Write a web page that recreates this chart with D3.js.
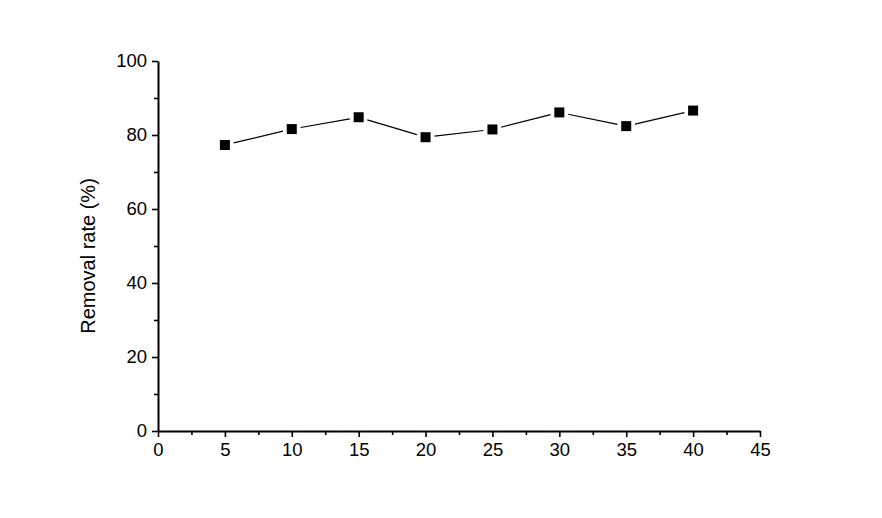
<!DOCTYPE html>
<html><head><meta charset="utf-8">
<script src="https://cdn.jsdelivr.net/npm/d3@7"></script>
<style>body{margin:0;background:#fff}svg{display:block}text{font-family:"Liberation Sans",Arial,sans-serif}</style>
</head><body>
<svg id="c" width="882" height="518"></svg>
<script>
const xValues = [5, 10, 15, 20, 25, 30, 35, 40];
const removalRate = [77.3, 81.6, 84.8, 79.4, 81.5, 86.1, 82.4, 86.6];
const xTicks = [0, 5, 10, 15, 20, 25, 30, 35, 40, 45];
const yTicks = [0, 20, 40, 60, 80, 100];
const yLabel = "Removal rate (%)";

const svg = d3.select("#c");
const x = d3.scaleLinear().domain([0, 45]).range([158, 760]);
const y = d3.scaleLinear().domain([0, 100]).range([431, 61]);

// axes
const gx = svg.append("g").attr("transform", `translate(0,${y(0)})`)
  .call(d3.axisBottom(x).tickValues(xTicks).tickSize(6).tickPadding(6).tickSizeOuter(0));
const gxm = svg.append("g").attr("transform", `translate(0,${y(0)})`)
  .call(d3.axisBottom(x).tickValues(d3.range(2.5, 45, 5)).tickSize(4).tickFormat("").tickSizeOuter(0));
const gy = svg.append("g").attr("transform", `translate(${x(0)},0)`)
  .call(d3.axisLeft(y).tickValues(yTicks).tickSize(6).tickPadding(5).tickSizeOuter(0));
const gym = svg.append("g").attr("transform", `translate(${x(0)},0)`)
  .call(d3.axisLeft(y).tickValues(d3.range(10, 100, 20)).tickSize(4).tickFormat("").tickSizeOuter(0));
[gx, gxm, gy, gym].forEach(g => {
  g.selectAll("path.domain").attr("stroke", "#000").attr("stroke-width", 2);
  g.selectAll(".tick line").attr("stroke", "#000").attr("stroke-width", 1.6);
  g.selectAll("text").attr("font-size", 18.5).attr("fill", "#000").style("font-family", '"Liberation Sans",Arial,sans-serif');
});
gym.select("path.domain").remove();
gxm.select("path.domain").remove();

svg.append("text")
  .attr("transform", `translate(95,${(y(0)+y(100))/2 + 10}) rotate(-90)`)
  .attr("text-anchor", "middle").attr("font-size", 20).attr("fill", "#000")
  .text(yLabel);

// line segments with gaps near markers
const pts = xValues.map((v, i) => [x(v), y(removalRate[i])]);
const gap = 9;
for (let i = 0; i < pts.length - 1; i++) {
  const [x1, y1] = pts[i], [x2, y2] = pts[i + 1];
  const dx = x2 - x1, dy = y2 - y1, L = Math.hypot(dx, dy);
  svg.append("line")
    .attr("x1", x1 + dx / L * gap).attr("y1", y1 + dy / L * gap)
    .attr("x2", x2 - dx / L * gap).attr("y2", y2 - dy / L * gap)
    .attr("stroke", "#000").attr("stroke-width", 1.2);
}
svg.selectAll("rect.pt").data(pts).join("rect").attr("class", "pt")
  .attr("x", d => d[0] - 5).attr("y", d => d[1] - 5)
  .attr("width", 10).attr("height", 10).attr("fill", "#000");
</script>
</body></html>
